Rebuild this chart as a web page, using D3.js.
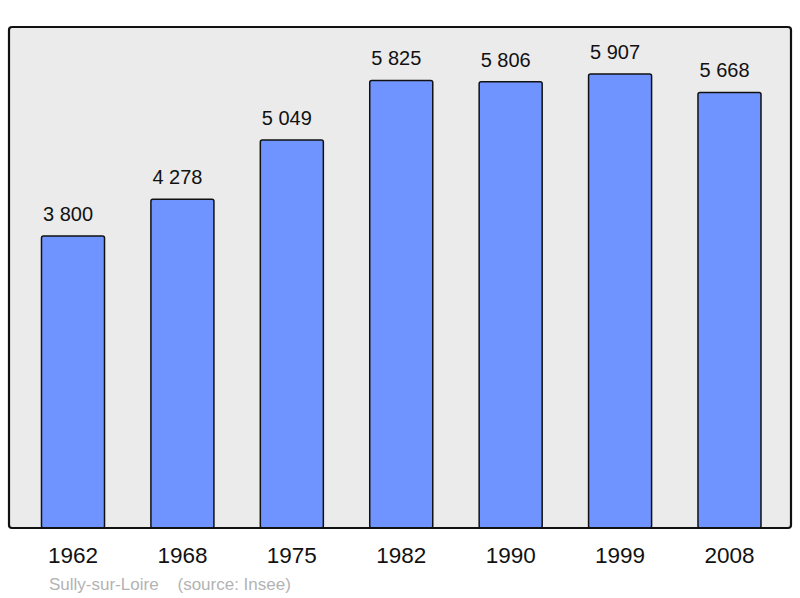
<!DOCTYPE html>
<html>
<head>
<meta charset="utf-8">
<script src="https://cdn.jsdelivr.net/npm/d3@7"></script>
<style>
  html, body { margin: 0; padding: 0; background: #fff; }
  svg { display: block; font-family: "Liberation Sans", Arial, sans-serif; }
</style>
</head>
<body>
<div id="chart"></div>
<script>
// census years and population (Sully-sur-Loire, source Insee)
const years = ['1962', '1968', '1975', '1982', '1990', '1999', '2008'];
const population = [3800, 4278, 5049, 5825, 5806, 5907, 5668];
const townName = 'Sully-sur-Loire';
const sourceText = '(source: Insee)';

const W = 800, H = 598;
const frame = { left: 9, top: 27, right: 791, bottom: 528 };

const svg = d3.select('#chart')
  .append('svg')
    .attr('width', W)
    .attr('height', H);

// plot background
svg.append('rect')
  .attr('x', frame.left)
  .attr('y', frame.top)
  .attr('width', frame.right - frame.left)
  .attr('height', frame.bottom - frame.top)
  .attr('rx', 3)
  .attr('fill', '#ebebeb');

const x = d3.scaleBand()
  .domain(years)
  .range([18.3, 784.2])
  .paddingInner(0.424)
  .paddingOuter(0.212);

const y = d3.scaleLinear()
  .domain([0, 6520])
  .range([frame.bottom, frame.top]);

const data = years.map((yr, i) => ({ year: yr, value: population[i] }));
const fmt = v => d3.format(',')(v).replace(',', ' ');

svg.append('g')
  .selectAll('rect')
  .data(data)
  .enter()
  .append('rect')
    .attr('x', d => x(d.year))
    .attr('y', d => y(d.value))
    .attr('width', x.bandwidth())
    .attr('height', d => y(0) - y(d.value))
    .attr('rx', 2)
    .attr('fill', '#7094ff')
    .attr('stroke', '#111')
    .attr('stroke-width', 1.5);

// frame outline drawn over bars
svg.append('rect')
  .attr('x', frame.left)
  .attr('y', frame.top)
  .attr('width', frame.right - frame.left)
  .attr('height', frame.bottom - frame.top)
  .attr('rx', 3)
  .attr('fill', 'none')
  .attr('stroke', '#111')
  .attr('stroke-width', 2.2);

// value labels (sit slightly left of bar centre, as in the original)
svg.append('g')
  .selectAll('text')
  .data(data)
  .enter()
  .append('text')
    .attr('x', d => x(d.year) + x.bandwidth() / 2 - 5)
    .attr('y', d => y(d.value) - 15)
    .attr('text-anchor', 'middle')
    .attr('font-size', '20px')
    .attr('fill', '#111')
    .text(d => fmt(d.value));

// year axis (no line, no ticks)
svg.append('g')
  .attr('transform', `translate(0,${frame.bottom})`)
  .call(d3.axisBottom(x).tickSize(0).tickPadding(0))
  .call(g => g.select('.domain').remove())
  .call(g => g.selectAll('text')
    .attr('dy', null)
    .attr('y', 35)
    .attr('font-size', '22.5px')
    .attr('font-family', '"Liberation Sans", Arial, sans-serif')
    .attr('fill', '#111'));

// footer
svg.append('text')
  .attr('x', 49)
  .attr('y', 590)
  .attr('font-size', '17px')
  .attr('fill', '#b3b3b3')
  .attr('xml:space', 'preserve')
  .style('white-space', 'pre')
  .text(townName + '    ' + sourceText);
</script>
</body>
</html>
